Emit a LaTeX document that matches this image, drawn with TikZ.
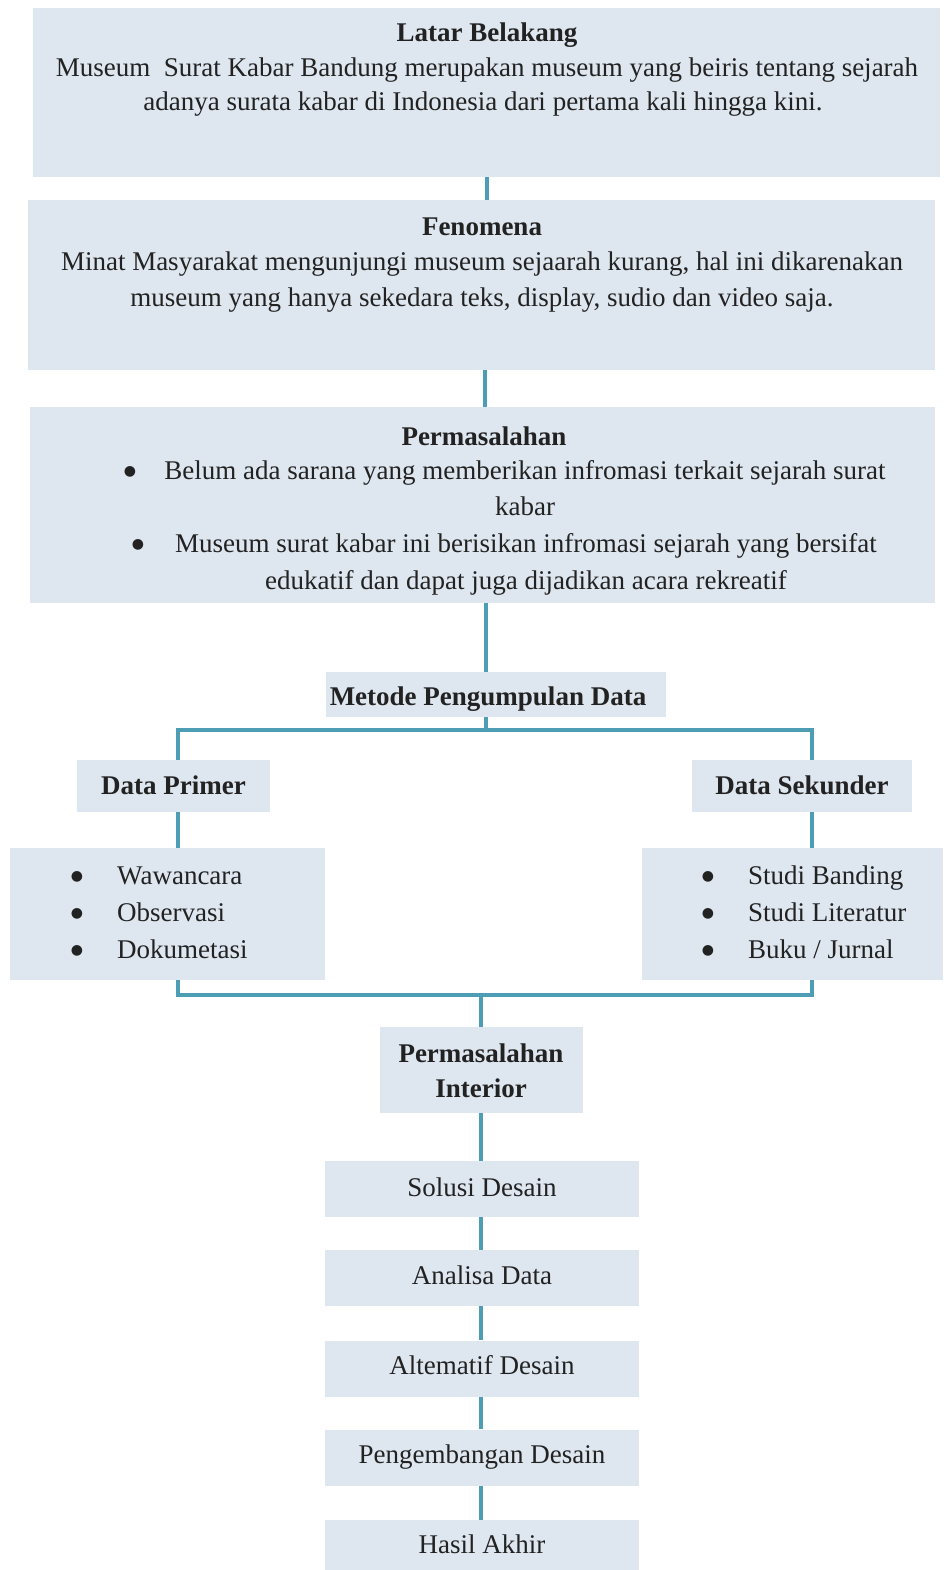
\documentclass[tikz,border=0pt]{standalone}
\usepackage{fontspec}
\setmainfont{Liberation Serif}
\newfontfamily\bulfont{DejaVu Sans}
\definecolor{boxfill}{HTML}{DEE6EF}
\definecolor{lineblue}{HTML}{4D9DB4}
\definecolor{ink}{HTML}{222222}
\begin{document}
\begin{tikzpicture}[x=1pt,y=-1pt,
  box/.style={fill=boxfill, draw=none, inner sep=0pt},
  conn/.style={draw=lineblue, line width=4pt},
  txt/.style={text=ink, font=\fontsize{27}{34}\selectfont, inner sep=0pt, anchor=base},
  ttl/.style={txt, font=\fontsize{27}{34}\selectfont\bfseries},
  bul/.style={text=ink, font=\bulfont\fontsize{14}{14}\selectfont, inner sep=0pt, anchor=base},
  lft/.style={txt, anchor=base west},
]
\useasboundingbox[fill=white] (0,0) rectangle (945,1570);

% boxes
\node[box, minimum width=907pt, minimum height=169pt] (b1) at (486.5,92.5) {};
\node[box, minimum width=907pt, minimum height=170pt] (b2) at (481.5,285) {};
\node[box, minimum width=905pt, minimum height=196pt] (b3) at (482.5,505) {};
\node[box, minimum width=340pt, minimum height=45pt] (metode) at (496,694.5) {};
\node[box, minimum width=193pt, minimum height=52pt] (dp) at (173.5,786) {};
\node[box, minimum width=220pt, minimum height=52pt] (ds) at (802,786) {};
\node[box, minimum width=315pt, minimum height=132pt] (ll) at (167.5,914) {};
\node[box, minimum width=301pt, minimum height=132pt] (rl) at (792.5,914) {};
\node[box, minimum width=203pt, minimum height=86pt] (pi) at (481.5,1070) {};
\node[box, minimum width=314pt, minimum height=56pt] (s1) at (482,1189) {};
\node[box, minimum width=314pt, minimum height=56pt] (s2) at (482,1278) {};
\node[box, minimum width=314pt, minimum height=56pt] (s3) at (482,1368.5) {};
\node[box, minimum width=314pt, minimum height=56pt] (s4) at (482,1457.5) {};
\node[box, minimum width=314pt, minimum height=52pt] (s5) at (482,1546) {};

% texts
\node[ttl] (b1t) at (487,42) {Latar Belakang};
\node[txt] (b1a) at (487,77) {Museum\ \ Surat Kabar Bandung merupakan museum yang beiris tentang sejarah};
\node[txt] (b1b) at (483,111) {adanya surata kabar di Indonesia dari pertama kali hingga kini.};

\node[ttl] (b2t) at (482,236) {Fenomena};
\node[txt] (b2a) at (482,270) {Minat Masyarakat mengunjungi museum sejaarah kurang, hal ini dikarenakan};
\node[txt] (b2b) at (482,306) {museum yang hanya sekedara teks, display, sudio dan video saja.};

\node[ttl] (b3t) at (484,445) {Permasalahan};
\node[bul] (b3d1) at (130,475) {●};
\node[txt] (b3a) at (525,479) {Belum ada sarana yang memberikan infromasi terkait sejarah surat};
\node[txt] (b3b) at (525,515) {kabar};
\node[bul] (b3d2) at (138,548) {●};
\node[txt] (b3c) at (526,552) {Museum surat kabar ini berisikan infromasi sejarah yang bersifat};
\node[txt] (b3e) at (526,589) {edukatif dan dapat juga dijadikan acara rekreatif};

\node[ttl] (mt) at (488,705) {Metode Pengumpulan Data};
\node[ttl] (dpt) at (173.5,794) {Data Primer};
\node[ttl] (dst) at (802,794) {Data Sekunder};

\node[bul] (l1d) at (77,880) {●};
\node[lft] (l1) at (117,884) {Wawancara};
\node[bul] (l2d) at (77,917) {●};
\node[lft] (l2) at (117,921) {Observasi};
\node[bul] (l3d) at (77,954) {●};
\node[lft] (l3) at (117,958) {Dokumetasi};
\node[bul] (r1d) at (708,880) {●};
\node[lft] (r1) at (748,884) {Studi Banding};
\node[bul] (r2d) at (708,917) {●};
\node[lft] (r2) at (748,921) {Studi Literatur};
\node[bul] (r3d) at (708,954) {●};
\node[lft] (r3) at (748,958) {Buku / Jurnal};

\node[ttl] (pit1) at (481,1062) {Permasalahan};
\node[ttl] (pit2) at (481,1097) {Interior};

\node[txt] (s1t) at (482,1196) {Solusi Desain};
\node[txt] (s2t) at (482,1284) {Analisa Data};
\node[txt] (s3t) at (482,1374) {Altematif Desain};
\node[txt] (s4t) at (482,1463) {Pengembangan Desain};
\node[txt] (s5t) at (482,1553) {Hasil Akhir};

% connector coordinates
\coordinate (xa) at (487,0);
\coordinate (xb) at (485,0);
\coordinate (xc) at (486,0);
\coordinate (jm) at (486,730);
\coordinate (jl) at (178,730);
\coordinate (jr) at (812,730);
\coordinate (kl) at (178,995);
\coordinate (kr) at (812,995);
\coordinate (km) at (481,995);

% connectors
\draw[conn] (b1.south -| xa) -- (b2.north -| xa);
\draw[conn] (b2.south -| xb) -- (b3.north -| xb);
\draw[conn] (b3.south -| xc) -- (metode.north -| xc);
\draw[conn] (metode.south -| jm) -- (jm);
\draw[conn] (dp.north -| jl) -- (jl) -- (jr) -- (ds.north -| jr);
\draw[conn] (dp.south -| jl) -- (ll.north -| jl);
\draw[conn] (ds.south -| jr) -- (rl.north -| jr);
\draw[conn] (ll.south -| kl) -- (kl) -- (kr) -- (rl.south -| kr);
\draw[conn] (km) -- (pi.north -| km);
\draw[conn] (pi.south -| km) -- (s1.north -| km);
\draw[conn] (s1.south -| km) -- (s2.north -| km);
\draw[conn] (s2.south -| km) -- (s3.north -| km);
\draw[conn] (s3.south -| km) -- (s4.north -| km);
\draw[conn] (s4.south -| km) -- (s5.north -| km);
\end{tikzpicture}
\end{document}
